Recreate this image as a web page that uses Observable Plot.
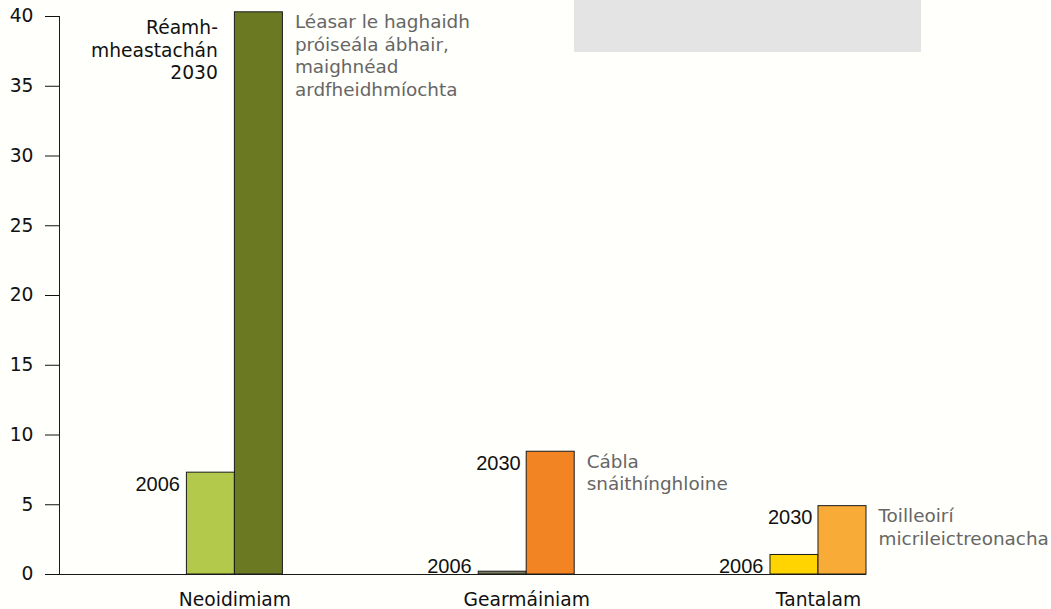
<!DOCTYPE html>
<html><head><meta charset="utf-8">
<script src="https://cdn.jsdelivr.net/npm/d3@7"></script>
<script src="https://cdn.jsdelivr.net/npm/@observablehq/plot@0.6"></script>
<style>
body{margin:0;background:#fffffb;}
#wrap{position:relative;width:1051px;height:609px;}
#box{position:absolute;left:574px;top:0;width:347px;height:52px;background:#e4e4e4;z-index:2;}
</style></head><body><div id="wrap"><div id="box"></div></div>
<script>
const categories = ["Neoidimiam", "Gearmáiniam", "Tantalam"];
const years = ["2006", "2030"];
const values2006 = [7.3, 0.2, 1.4];
const values2030 = [40.3, 8.8, 4.9];
const uses = [
  ["Léasar le haghaidh", "próiseála ábhair,", "maighnéad", "ardfheidhmíochta"],
  ["Cábla", "snáithínghloine"],
  ["Toilleoirí", "micrileictreonacha"]
];
const forecastLabel = ["Réamh-", "mheastachán", "2030"];
const yTicks = [0, 5, 10, 15, 20, 25, 30, 35, 40];

const rows2006 = categories.map((c, i) => ({category: c, year: years[0], value: values2006[i], key: c + " " + years[0]}));
const rows2030 = categories.map((c, i) => ({category: c, year: years[1], value: values2030[i], key: c + " " + years[1], use: uses[i].join("\n")}));
const barKeys = categories.flatMap(c => years.map(y => c + " " + y));
const barColors = ["#b2c94b", "#6b7a22", "#7a7a5c", "#f28424", "#ffd400", "#f9ab38"];

const half = 48;
const fs = 18.7;
const chart = Plot.plot({
  width: 1051, height: 609,
  marginLeft: 59, marginRight: 185, marginTop: 16, marginBottom: 35,
  style: {background: "transparent", fontFamily: "DejaVu Sans", color: "#111"},
  x: {domain: categories, paddingInner: 0.671, paddingOuter: 0.2183, align: 1, round: false, axis: null},
  y: {domain: [0, 40], axis: null},
  color: {domain: barKeys, range: barColors},
  marks: [
    Plot.barY(rows2006, {x: "category", y: "value", fill: "key", stroke: "#1a1a1a", strokeWidth: 1, insetRight: half}),
    Plot.barY(rows2030, {x: "category", y: "value", fill: "key", stroke: "#1a1a1a", strokeWidth: 1, insetLeft: half}),
    Plot.ruleY([0], {stroke: "#1a1a1a"}),
    Plot.frame({anchor: "left", stroke: "#1a1a1a"}),
    Plot.axisY({ticks: yTicks, tickSize: 14, tickPadding: 12, fontSize: fs, fontFamily: "DejaVu Sans", label: null, color: "#111"}),
    Plot.axisX({tickSize: 0, tickPadding: 18, fontSize: fs, fontFamily: "DejaVu Sans", label: null, color: "#111"}),
    Plot.text(rows2006, {x: "category", y: d => Math.max(d.value, values2006[2]), text: "year", textAnchor: "end", lineAnchor: "top", dx: -half - 7, dy: 4, fontFamily: "Liberation Sans", fontSize: 20, fill: "#111"}),
    Plot.text(rows2030.slice(1), {x: "category", y: "value", text: "year", textAnchor: "end", lineAnchor: "top", dx: -6, dy: 4, fontFamily: "Liberation Sans", fontSize: 20, fill: "#111"}),
    Plot.text(rows2030.slice(0, 1), {x: "category", y: "value", text: () => forecastLabel.join("\n"), textAnchor: "end", lineAnchor: "top", dx: -17, dy: 6, fontFamily: "DejaVu Sans", fontSize: fs, lineHeight: 1.2, fill: "#111"}),
    Plot.text(rows2030, {x: "category", y: "value", text: "use", textAnchor: "start", lineAnchor: "top", dx: half + 12, dy: 0, fontFamily: "DejaVu Sans", fontSize: 18.4, lineHeight: 1.22, fill: "#666"})
  ]
});
document.getElementById("wrap").appendChild(chart);
chart.style.position = "absolute"; chart.style.left = "0"; chart.style.top = "0";
</script></body></html>
